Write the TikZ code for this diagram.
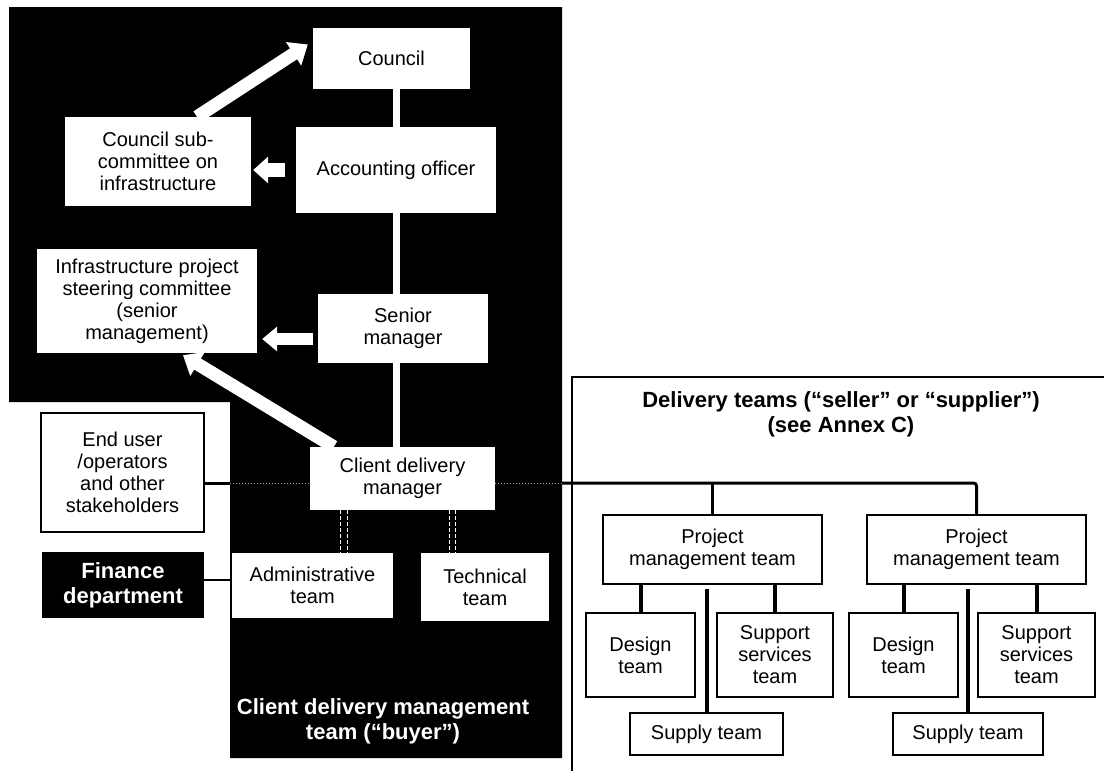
\documentclass[tikz,border=0pt]{standalone}
\usepackage{fontspec}
\setmainfont{Liberation Sans}
\usetikzlibrary{arrows.meta,calc}
\begin{document}
\begin{tikzpicture}[x=1pt,y=-1pt,
  txt/.style={font=\fontsize{20}{22}\selectfont},
  btxt/.style={font=\fontsize{22}{25}\selectfont\bfseries},
  wbox/.style={txt,draw=none,fill=white,inner sep=0pt,align=center},
  dbox/.style={txt,draw=black,line width=2pt,fill=white,inner sep=0pt,align=center},
  ebox/.style={txt,draw=black,line width=1.5pt,fill=white,inner sep=0pt,align=center},
  fbox/.style={btxt,fill=black,text=white,inner sep=0pt,align=center},
  warrow/.style={draw=white,line width=13pt,-{Triangle[width=27pt,length=17pt]}},
  wline/.style={draw=white,line width=7pt},
  mainline/.style={draw=black,line width=3pt},
  conn/.style={draw=black,line width=4pt},
  faint/.style={draw=gray!70,line width=1pt,dotted},
  ddash/.style={draw=white,line width=0.9pt,dash pattern=on 4pt off 2pt},
]
\useasboundingbox (0,0) rectangle (1104,771);
\fill[white] (0,0) rectangle (1104,771);
% black background region
\fill[black] (9,7) -- (562,7) -- (562,758) -- (230,758) -- (230,402) -- (9,402) -- cycle;

% buyer side boxes
\node[wbox,minimum width=157pt,minimum height=61pt] (council) at (391.5,58.5) {Council};
\node[wbox,minimum width=200pt,minimum height=86pt] (acc) at (396,170) {Accounting officer};
\node[wbox,minimum width=186pt,minimum height=89pt] (sub) at (158,161.5) {Council sub-\\committee on\\infrastructure};
\node[wbox,minimum width=220pt,minimum height=104pt] (steer) at (147,301) {Infrastructure project\\steering committee\\(senior\\management)};
\node[wbox,minimum width=170pt,minimum height=69pt] (senior) at (403,328.5) {Senior\\manager};
\node[wbox,minimum width=185pt,minimum height=63pt] (client) at (402.5,478.5) {Client delivery\\manager};
\node[ebox,minimum width=163pt,minimum height=119pt] (enduser) at (122.5,472.5) {End user\\/operators\\and other\\stakeholders};
\node[fbox,minimum width=162pt,minimum height=66pt] (fin) at (123,585) {Finance\\department};
\node[wbox,minimum width=161pt,minimum height=65pt] (admin) at (312.5,585.5) {Administrative\\team};
\node[wbox,minimum width=128pt,minimum height=68pt] (tech) at (485,587) {Technical\\team};
\node[btxt,text=white,align=center] (buyer) at (383,721) {Client delivery management\\team (“buyer”)};

% white vertical links
\draw[wline] (acc.north |- council.south) -- (acc.north);
\draw[wline] (acc.south) -- (acc.south |- senior.north);
\draw[wline] (acc.south |- senior.south) -- (acc.south |- client.north);

% white block arrows
\draw[warrow] ($(sub.north)+(39,0)$) -- ($(council.west)+(-5,-14)$);
\draw[warrow,line width=14pt,-{Triangle[width=26pt,length=15pt]}] ($(acc.west)+(-11,0)$) -- ($(acc.west -| sub.east)+(2,0)$);
\draw[warrow,line width=12pt,-{Triangle[width=24pt,length=15pt]}] ($(senior.west)+(-5,10.5)$) -- ($(senior.west -| steer.east)+(5,10.5)$);
\draw[warrow] ($(client.north west)+(24,0)$) -- ($(steer.south)+(36,2)$);

% client to teams: double dashed links
\coordinate (dd1) at (340,0);
\coordinate (dd2) at (347,0);
\coordinate (dd3) at (449,0);
\coordinate (dd4) at (455,0);
\draw[ddash] (client.south -| dd1) -- (admin.north -| dd1);
\draw[ddash] (client.south -| dd2) -- (admin.north -| dd2);
\draw[ddash] (client.south -| dd3) -- (tech.north -| dd3);
\draw[ddash] (client.south -| dd4) -- (tech.north -| dd4);

% finance to admin
\draw[draw=black,line width=2pt] ($(fin.east)+(0,-5)$) -- ($(fin.east -| admin.west)+(0,-5)$);

% delivery side
\coordinate (frtop) at (1104,377);
\coordinate (frcorner) at (572,377);
\coordinate (frbot) at (572,771);
\draw[black,line width=2pt] (frtop) -- (frcorner) -- (frbot);
\node[btxt,align=center] (dtitle) at (841,414) {Delivery teams (“seller” or “supplier”)\\(see Annex C)};

\node[dbox,minimum width=219pt,minimum height=69pt] (pm1) at (712.5,549.5) {Project\\management team};
\node[dbox,minimum width=219pt,minimum height=69pt] (pm2) at (976.5,549.5) {Project\\management team};
\node[dbox,minimum width=109pt,minimum height=84pt] (d1) at (640.5,655) {Design\\team};
\node[dbox,minimum width=116pt,minimum height=84pt] (s1) at (775,655) {Support\\services\\team};
\node[dbox,minimum width=153pt,minimum height=42pt] (p1) at (706.5,734) {Supply team};
\node[dbox,minimum width=109pt,minimum height=84pt] (d2) at (903.5,655) {Design\\team};
\node[dbox,minimum width=117pt,minimum height=84pt] (s2) at (1036.5,655) {Support\\services\\team};
\node[dbox,minimum width=150pt,minimum height=42pt] (p2) at (968,734) {Supply team};

% main horizontal line
\coordinate (bl) at (230,483);
\coordinate (br) at (562,483);
\draw[mainline] ($(enduser.east)+(0,10.5)$) -- (bl);
\draw[faint] (bl) -- (client.west |- bl);
\draw[faint] (client.east |- bl) -- (br);
\draw[mainline,rounded corners=3pt] (br) -- (pm2.north |- br) -- (pm2.north);
\draw[mainline] (pm1.north |- br) -- (pm1.north);

% team links
\draw[conn] (pm1.south -| d1.north) -- (d1.north);
\draw[conn] (pm1.south -| s1.north) -- (s1.north);
\draw[conn] ($(pm1.south -| p1.north)+(0,4)$) -- (p1.north);
\draw[conn] (pm2.south -| d2.north) -- (d2.north);
\draw[conn] (pm2.south -| s2.north) -- (s2.north);
\draw[conn] ($(pm2.south -| p2.north)+(0,4)$) -- (p2.north);
\end{tikzpicture}
\end{document}
